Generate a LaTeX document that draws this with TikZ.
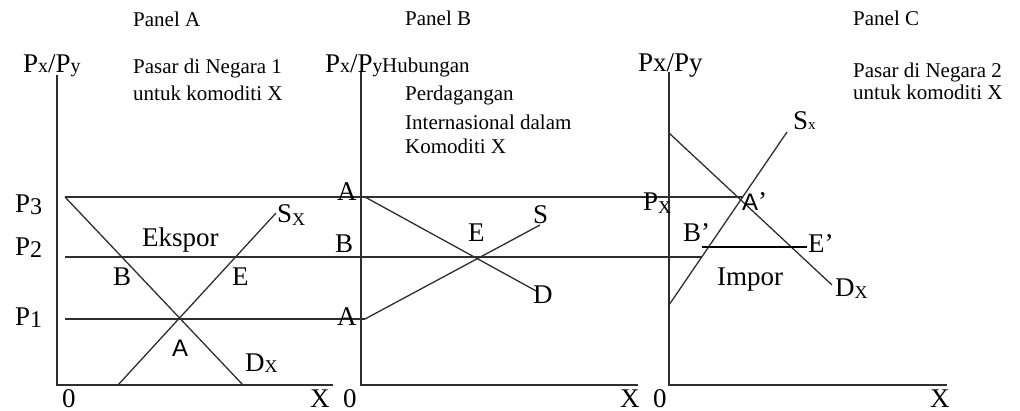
\documentclass[tikz,border=0pt]{standalone}
\usepackage{fontspec}
\setmainfont{Liberation Serif}
\newfontfamily\arialf{Liberation Sans}
\newcommand\bigt{\fontsize{27}{30}\selectfont}
\newcommand\midt{\fontsize{21}{25}\selectfont}
\newcommand\lsub[2]{\raisebox{-#1pt}{\fontsize{18}{20}\selectfont #2}}
\newcommand\nsub[2]{\raisebox{-#1pt}{\fontsize{24}{26}\selectfont #2}}
\newcommand\ssub[1]{{\fontsize{20}{22}\selectfont #1}}
\tikzset{
  ln/.style={line width=1.3pt, draw=black!82},
  thk/.style={line width=2pt, draw=black},
  lbl/.style={inner sep=0pt, anchor=base west, font=\bigt},
  txt/.style={inner sep=0pt, anchor=base west, font=\midt},
  slbl/.style={inner sep=0pt, anchor=base west, font=\arialf\fontsize{24}{26}\selectfont}
}
\begin{document}
\begin{tikzpicture}[x=1pt,y=-1pt]
\useasboundingbox (0,0) rectangle (1020,411);
% ---------- coordinates ----------
% Panel A
\coordinate (aT) at (57,75); \coordinate (aO) at (57,385); \coordinate (aR) at (333,385);
\coordinate (p3s) at (65,197); \coordinate (p2s) at (65,257); \coordinate (p1s) at (65,319);
\coordinate (dAe) at (243,385);
\coordinate (sAs) at (118,385); \coordinate (sAe) at (276,213);
% Panel B
\coordinate (bT) at (361,72); \coordinate (bO) at (361,385); \coordinate (bR) at (638,385);
\coordinate (dBs) at (365,197); \coordinate (dBe) at (538,292);
\coordinate (sBs) at (365,319); \coordinate (sBe) at (540,225);
% Panel C
\coordinate (cT) at (669,72); \coordinate (cO) at (669,385); \coordinate (cR) at (947,385);
\coordinate (dCs) at (669,133); \coordinate (dCe) at (832,285);
\coordinate (sCs) at (669,305); \coordinate (sCe) at (787,132);
\coordinate (Ap) at (742,197); \coordinate (p2e) at (702,257);
\coordinate (bpE) at (702,247); \coordinate (epE) at (807,247);
% ---------- lines ----------
\draw[ln] (aT) -- (aO) -- (aR);
\draw[ln] (bT) -- (bO) -- (bR);
\draw[ln] (cT) -- (cO) -- (cR);
\draw[ln] (p3s) -- (Ap);
\draw[ln] (p2s) -- (p2e);
\draw[ln] (p1s) -- (sBs);
\draw[ln] (p3s) -- (dAe);
\draw[ln] (sAs) -- (sAe);
\draw[ln] (dBs) -- (dBe);
\draw[ln] (sBs) -- (sBe);
\draw[ln] (dCs) -- (dCe);
\draw[ln] (sCs) -- (sCe);
\draw[thk] (bpE) -- (epE);
% ---------- Panel A texts ----------
\node[txt] (tA) at (133,26.7) {Panel A};
\node[txt] (tA1) at (133,74) {Pasar di Negara 1};
\node[txt] (tA2) at (133,101) {untuk komoditi X};
\node[lbl] (yA) at (23,73) {P\ssub{x}/P\ssub{y}};
\node[lbl] (P3) at (15,213) {P\nsub{2}{3}};
\node[lbl] (P2) at (15,256) {P\nsub{2}{2}};
\node[lbl] (P1) at (15,326) {P\nsub{2}{1}};
\node[lbl] (eks) at (142,247) {Ekspor};
\node[lbl] (BA) at (113,286) {B};
\node[lbl] (EA) at (232,286) {E};
\node[slbl] (AA) at (172,357) {A};
\node[lbl] (DA) at (245,372) {D\lsub{1}{X}};
\node[lbl] (SA) at (277,223) {S\lsub{3}{X}};
\node[lbl] (oA) at (62,407) {0};
\node[lbl] (xA) at (310,407) {X};
% ---------- Panel B texts ----------
\node[txt] (tB) at (405,26) {Panel B};
\node[lbl] (yB) at (325,73) {P\ssub{x}/P\ssub{y}};
\node[txt] (tB1) at (382,73) {Hubungan};
\node[txt] (tB2) at (405,101) {Perdagangan};
\node[txt] (tB3) at (405,130) {Internasional dalam};
\node[txt] (tB4) at (405,154) {Komoditi X};
\node[lbl] (AB1) at (337,201) {A};
\node[lbl] (BB) at (335,253) {B};
\node[lbl] (AB2) at (337,326) {A};
\node[lbl] (EB) at (468,242) {E};
\node[lbl] (SB) at (533,224) {S};
\node[lbl] (DB) at (533,304) {D};
\node[lbl] (oB) at (343,407) {0};
\node[lbl] (xB) at (620,407) {X};
% ---------- Panel C texts ----------
\node[txt] (tC) at (853,26) {Panel C};
\node[txt] (tC1) at (853,78) {Pasar di Negara 2};
\node[txt] (tC2) at (853,100) {untuk komoditi X};
\node[lbl] (yC) at (638,72) {Px/Py};
\node[lbl] (SC) at (793,130) {S{\fontsize{15}{17}\selectfont x}};
\node[lbl] (PC) at (643,211) {P\lsub{3}{X}};
\node[slbl] (AC) at (742,211) {A\raisebox{0pt}{\bigt\rmfamily ’}};
\node[lbl] (BC) at (683,242) {B’};
\node[lbl] (EC) at (808,253) {E’};
\node[lbl] (imp) at (717,286) {Impor};
\node[lbl] (DC) at (835,297) {D\lsub{2}{X}};
\node[lbl] (oC) at (653,407) {0};
\node[lbl] (xC) at (930,407) {X};
\end{tikzpicture}
\end{document}
